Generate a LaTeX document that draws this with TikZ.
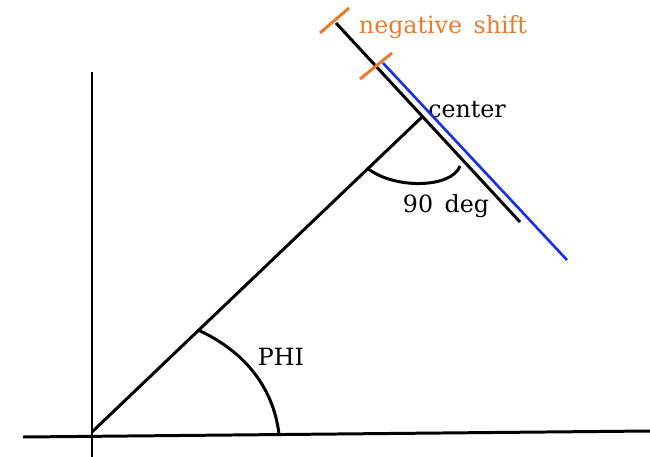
\documentclass[tikz,border=0pt]{standalone}
\usepackage{fontspec}
\setmainfont{DejaVu Serif}
\usepackage{tikz}
\definecolor{shiftorange}{RGB}{232,124,44}
\definecolor{tanblue}{RGB}{24,48,230}

\begin{document}
\begin{tikzpicture}[x=0.02cm, y=-0.02cm, line width=1.7pt,
    txt/.style={font=\fontsize{13.5}{15}\selectfont, inner sep=0pt}]
    \useasboundingbox (0,0) rectangle (650,457);

    \coordinate (o) at (92,432);
    \coordinate (xl) at (23,437);
    \coordinate (xr) at (650,431);
    \coordinate (yt) at (92,72);
    \coordinate (yb) at (92,457);
    \coordinate (c) at (422,117);
    \coordinate (t1) at (336,23);
    \coordinate (t2) at (520,222);
    \coordinate (b1) at (383,63);
    \coordinate (b2) at (567,260);
    \coordinate (p1) at (198,330);
    \coordinate (p2) at (279,434);
    \coordinate (q1) at (367,168);
    \coordinate (q2) at (460,166);

    \node (neg) [txt, text=shiftorange] at (443,27) {negative\, shift};
    \node (cen) [txt] at (467,110) {center};
    \node (deg) [txt] at (446,206) {90\, deg};
    \node (phi) [txt] at (281,357) {PHI};

    % axes and radius
    \draw (xl) -- (xr);
    \draw (yt) -- (yb);
    \draw (o) -- (c);
    \draw (t1) -- (t2);
    \draw [tanblue, line width=1.5pt] (b1) -- (b2);

    % angle marks
    \draw (p1) .. controls (242,350) and (273,385) .. (p2);
    \draw (q1) .. controls (395,190) and (452,188) .. (q2);

    % shift marks
    \draw [shiftorange] (320,33) -- (349,8);
    \draw [shiftorange] (360,79) -- (392,53);
\end{tikzpicture}
\end{document}
